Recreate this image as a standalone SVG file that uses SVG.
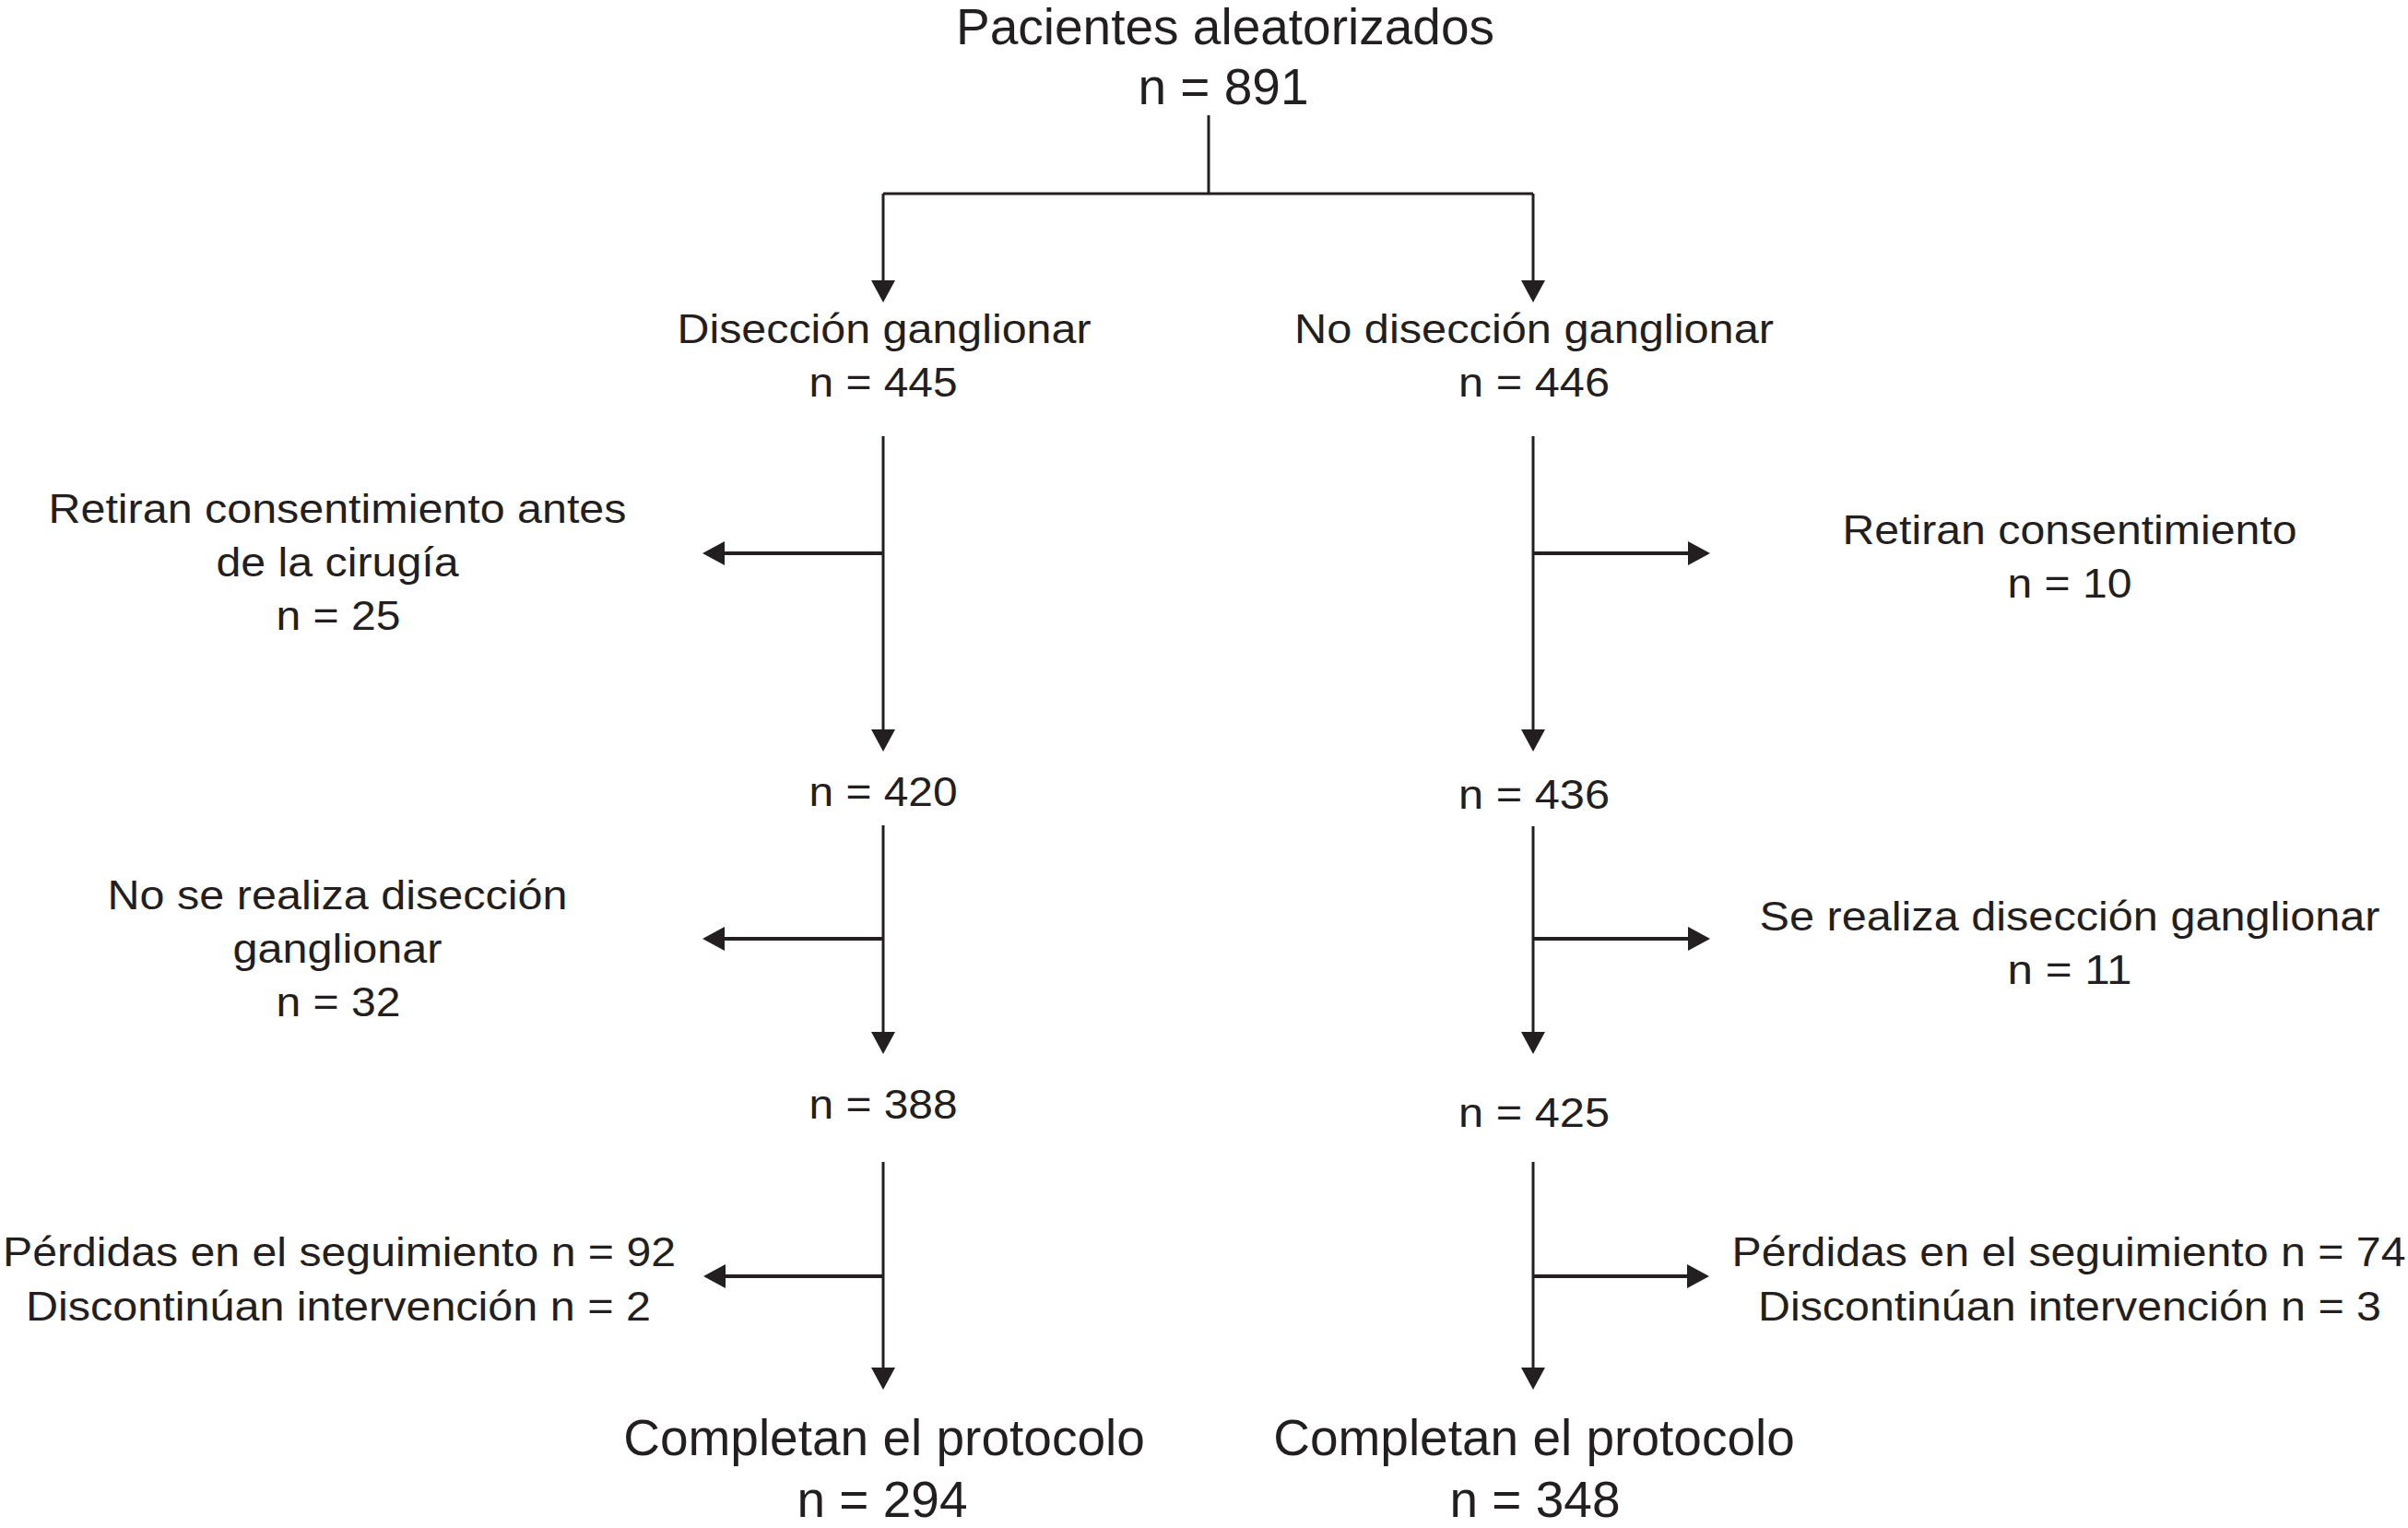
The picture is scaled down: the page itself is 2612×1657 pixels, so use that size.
<svg xmlns="http://www.w3.org/2000/svg" width="2612" height="1657" viewBox="0 0 2612 1657">
<style>
text{font-family:"Liberation Sans",Arial,Helvetica,sans-serif;fill:#231f20;text-anchor:middle}
.s{font-size:44px}
.l{font-size:55px}
.ln{fill:none;stroke:#231f20;stroke-width:3}
.sd{fill:none;stroke:#231f20;stroke-width:4}
</style>
<defs>
<marker id="ah" markerUnits="userSpaceOnUse" markerWidth="24" markerHeight="26" refX="14" refY="13" orient="auto">
<path d="M0,0 L24,13 L0,26 z" fill="#231f20"/>
</marker>
</defs>
<rect width="2612" height="1657" fill="#fff"/>
<g id="connectors">
<path class="ln" d="M1311,125 V210"/>
<path class="ln" d="M958,210 H1663"/>
<path class="ln" d="M958,210 V318" marker-end="url(#ah)"/>
<path class="ln" d="M1663,210 V318" marker-end="url(#ah)"/>
<path class="ln" d="M958,473 V805" marker-end="url(#ah)"/>
<path class="ln" d="M1663,473 V805" marker-end="url(#ah)"/>
<path class="sd" d="M958,600 H772" marker-end="url(#ah)"/>
<path class="sd" d="M1663,600 H1845" marker-end="url(#ah)"/>
<path class="ln" d="M958,895 V1133" marker-end="url(#ah)"/>
<path class="ln" d="M1663,896 V1133" marker-end="url(#ah)"/>
<path class="sd" d="M958,1018 H772" marker-end="url(#ah)"/>
<path class="sd" d="M1663,1018 H1845" marker-end="url(#ah)"/>
<path class="ln" d="M958,1260 V1497" marker-end="url(#ah)"/>
<path class="ln" d="M1663,1260 V1497" marker-end="url(#ah)"/>
<path class="sd" d="M958,1384 H773" marker-end="url(#ah)"/>
<path class="sd" d="M1663,1384 H1844" marker-end="url(#ah)"/>
</g>
<g id="n-aleatorizados">
<text class="l" x="1329" y="48">Pacientes aleatorizados</text>
<text class="l" x="1327" y="113">n = 891</text>
</g>
<g id="n-diseccion">
<text class="s" x="959" y="372" textLength="449" lengthAdjust="spacingAndGlyphs">Disección ganglionar</text>
<text class="s" x="958" y="430" textLength="161" lengthAdjust="spacingAndGlyphs">n = 445</text>
</g>
<g id="n-no-diseccion">
<text class="s" x="1664" y="372" textLength="520" lengthAdjust="spacingAndGlyphs">No disección ganglionar</text>
<text class="s" x="1664" y="430" textLength="164" lengthAdjust="spacingAndGlyphs">n = 446</text>
</g>
<g id="n-retiran-izq">
<text class="s" x="366" y="567" textLength="627" lengthAdjust="spacingAndGlyphs">Retiran consentimiento antes</text>
<text class="s" x="366" y="625" textLength="263" lengthAdjust="spacingAndGlyphs">de la cirugía</text>
<text class="s" x="367" y="683" textLength="135" lengthAdjust="spacingAndGlyphs">n = 25</text>
</g>
<g id="n-retiran-der">
<text class="s" x="2245" y="590" textLength="493" lengthAdjust="spacingAndGlyphs">Retiran consentimiento</text>
<text class="s" x="2245" y="648" textLength="135" lengthAdjust="spacingAndGlyphs">n = 10</text>
</g>
<g id="n-420">
<text class="s" x="958" y="874" textLength="161" lengthAdjust="spacingAndGlyphs">n = 420</text>
</g>
<g id="n-436">
<text class="s" x="1664" y="877" textLength="164" lengthAdjust="spacingAndGlyphs">n = 436</text>
</g>
<g id="n-no-se-realiza">
<text class="s" x="366" y="986" textLength="499" lengthAdjust="spacingAndGlyphs">No se realiza disección</text>
<text class="s" x="366" y="1044" textLength="227" lengthAdjust="spacingAndGlyphs">ganglionar</text>
<text class="s" x="367" y="1102" textLength="135" lengthAdjust="spacingAndGlyphs">n = 32</text>
</g>
<g id="n-se-realiza">
<text class="s" x="2245" y="1009" textLength="673" lengthAdjust="spacingAndGlyphs">Se realiza disección ganglionar</text>
<text class="s" x="2245" y="1067" textLength="135" lengthAdjust="spacingAndGlyphs">n = 11</text>
</g>
<g id="n-388">
<text class="s" x="958" y="1213" textLength="161" lengthAdjust="spacingAndGlyphs">n = 388</text>
</g>
<g id="n-425">
<text class="s" x="1664" y="1222" textLength="164" lengthAdjust="spacingAndGlyphs">n = 425</text>
</g>
<g id="n-perdidas-izq">
<text class="s" x="368" y="1373" textLength="730" lengthAdjust="spacingAndGlyphs">Pérdidas en el seguimiento n = 92</text>
<text class="s" x="367" y="1432" textLength="678" lengthAdjust="spacingAndGlyphs">Discontinúan intervención n = 2</text>
</g>
<g id="n-perdidas-der">
<text class="s" x="2244" y="1373" textLength="731" lengthAdjust="spacingAndGlyphs">Pérdidas en el seguimiento n = 74</text>
<text class="s" x="2245" y="1432" textLength="676" lengthAdjust="spacingAndGlyphs">Discontinúan intervención n = 3</text>
</g>
<g id="n-completan-izq">
<text class="l" x="959" y="1578">Completan el protocolo</text>
<text class="l" x="957" y="1645">n = 294</text>
</g>
<g id="n-completan-der">
<text class="l" x="1664" y="1578">Completan el protocolo</text>
<text class="l" x="1665" y="1645">n = 348</text>
</g>
</svg>
